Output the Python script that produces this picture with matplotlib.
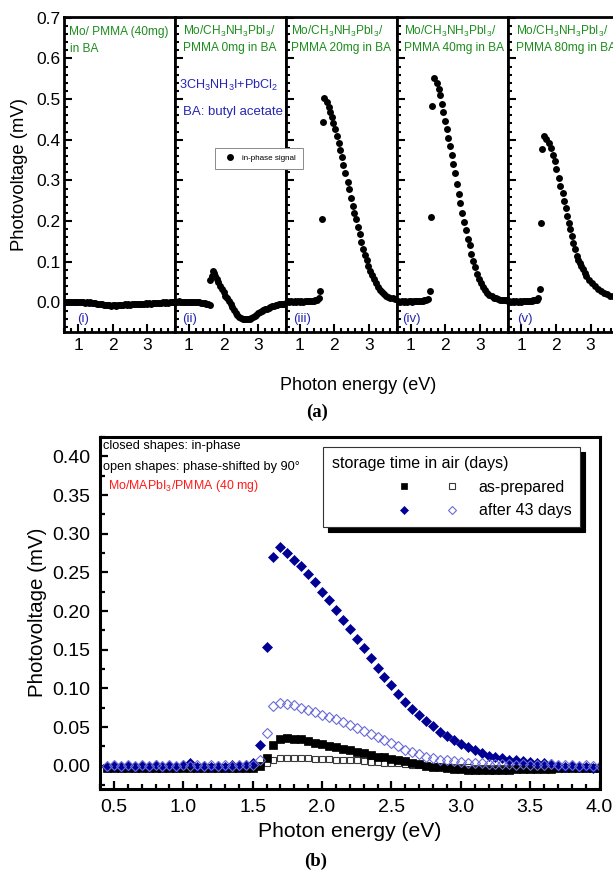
import matplotlib
matplotlib.use("Agg")
import matplotlib.pyplot as plt
from matplotlib.lines import Line2D
from matplotlib.legend_handler import HandlerTuple
from matplotlib.ticker import MultipleLocator, FormatStrFormatter

plt.rcParams['font.family'] = ['Liberation Sans', 'DejaVu Sans']
plt.rcParams['mathtext.fontset'] = 'custom'
plt.rcParams['mathtext.rm'] = 'Liberation Sans'
plt.rcParams['mathtext.it'] = 'Liberation Sans:italic'
plt.rcParams['mathtext.bf'] = 'Liberation Sans:bold'

# ---------------------------------------------------------------- data (a)
# (i) Mo/PMMA (40 mg) in BA
e_i = [0.60, 0.65, 0.70, 0.75, 0.80, 0.85, 0.90, 0.95, 1.00, 1.05, 1.10, 1.15, 1.20, 1.25,
       1.30, 1.35, 1.40, 1.45, 1.50, 1.55, 1.60, 1.65, 1.70, 1.75, 1.80, 1.85, 1.90, 1.95,
       2.00, 2.05, 2.10, 2.15, 2.20, 2.25, 2.30, 2.35, 2.40, 2.45, 2.50, 2.55, 2.60, 2.65,
       2.70, 2.75, 2.80, 2.85, 2.90, 2.95, 3.00, 3.05, 3.10, 3.15, 3.20, 3.25, 3.30, 3.35,
       3.40, 3.45, 3.50, 3.55, 3.60, 3.65, 3.70, 3.75, 3.80]
v_i = [0.001, 0.002, 0.000, 0.002, 0.001, 0.002, 0.000, 0.001, 0.002, 0.000, 0.001, 0.000, -0.001, 0.000,
       -0.001, 0.000, -0.001, -0.002, -0.001, -0.003, -0.003, -0.005, -0.004, -0.006, -0.006, -0.007, -0.006, -0.008,
       -0.007, -0.007, -0.008, -0.006, -0.007, -0.006, -0.007, -0.005, -0.006, -0.005, -0.006, -0.004, -0.005, -0.004,
       -0.005, -0.003, -0.004, -0.003, -0.004, -0.002, -0.003, -0.002, -0.003, -0.002, -0.002, -0.001, -0.002, -0.001,
       -0.002, 0.000, -0.001, 0.000, -0.001, 0.000, 0.000, 0.001, 0.000]

# (ii) Mo/CH3NH3PbI3/PMMA 0 mg in BA
e_ii = [0.60, 0.65, 0.70, 0.75, 0.80, 0.85, 0.90, 0.95, 1.00, 1.05, 1.10, 1.15, 1.20, 1.25,
        1.30, 1.35, 1.40, 1.45, 1.50, 1.55, 1.60,
        1.62, 1.66, 1.70, 1.73, 1.76, 1.80, 1.85, 1.90, 1.95, 2.00,
        2.05, 2.10, 2.15, 2.20, 2.25, 2.30, 2.35, 2.40, 2.45, 2.50, 2.55, 2.60, 2.65, 2.70,
        2.75, 2.80, 2.85, 2.90, 2.95, 3.00, 3.05, 3.10, 3.15, 3.20, 3.25, 3.30, 3.35, 3.40,
        3.45, 3.50, 3.55, 3.60, 3.65, 3.70, 3.75, 3.80]
v_ii = [0.002, 0.001, 0.003, 0.001, 0.002, 0.001, 0.002, 0.001, 0.002, 0.001, 0.001, 0.000, 0.001, 0.000,
        0.000, -0.001, -0.001, -0.002, -0.003, -0.005, -0.007,
        0.056, 0.066, 0.077, 0.072, 0.066, 0.058, 0.049, 0.041, 0.033, 0.025,
        0.017, 0.010, 0.003, -0.005, -0.012, -0.019, -0.025, -0.030, -0.035, -0.038, -0.041, -0.042, -0.042, -0.041,
        -0.040, -0.038, -0.036, -0.033, -0.030, -0.027, -0.024, -0.021, -0.019, -0.017, -0.015, -0.013, -0.011, -0.009,
        -0.008, -0.007, -0.006, -0.005, -0.004, -0.003, -0.003, -0.002]

# (iii) Mo/CH3NH3PbI3/PMMA 20 mg in BA
e_iii = [0.60, 0.65, 0.70, 0.75, 0.80, 0.85, 0.90, 0.95, 1.00, 1.05, 1.10, 1.15, 1.20, 1.25,
         1.30, 1.35, 1.40, 1.45, 1.50,
         1.55, 1.59, 1.63, 1.66, 1.70, 1.78,
         1.84, 1.88, 1.92, 1.97, 2.03, 2.07, 2.13, 2.17, 2.21, 2.26, 2.32, 2.38, 2.43, 2.48,
         2.53, 2.58, 2.63, 2.68, 2.73, 2.78, 2.83, 2.88, 2.93, 2.98, 3.03, 3.08, 3.14, 3.20,
         3.26, 3.32, 3.38, 3.44, 3.50, 3.56, 3.62, 3.68, 3.74, 3.80]
v_iii = [0.002, 0.003, 0.002, 0.003, 0.002, 0.003, 0.002, 0.003, 0.002, 0.003, 0.002, 0.003, 0.003, 0.003,
         0.003, 0.004, 0.004, 0.005, 0.007,
         0.011, 0.028, 0.205, 0.443, 0.502, 0.492,
         0.480, 0.467, 0.455, 0.441, 0.426, 0.410, 0.393, 0.375, 0.358, 0.339, 0.317, 0.295, 0.278, 0.257,
         0.238, 0.221, 0.204, 0.186, 0.168, 0.148, 0.131, 0.117, 0.104, 0.090, 0.078, 0.068, 0.057, 0.047,
         0.038, 0.031, 0.025, 0.020, 0.016, 0.014, 0.012, 0.010, 0.009, 0.008]

# (iv) Mo/CH3NH3PbI3/PMMA 40 mg in BA
e_iv = [0.60, 0.65, 0.70, 0.75, 0.80, 0.85, 0.90, 0.95, 1.00, 1.05, 1.10, 1.15, 1.20, 1.25,
        1.30, 1.35, 1.40, 1.45, 1.50,
        1.56, 1.59, 1.63, 1.68, 1.75, 1.81,
        1.86, 1.90, 1.95, 2.00, 2.05, 2.09, 2.14, 2.19, 2.24, 2.29, 2.35, 2.40, 2.44, 2.49,
        2.54, 2.60, 2.65, 2.71, 2.76, 2.81, 2.86, 2.92, 2.98, 3.04, 3.10, 3.16, 3.22, 3.28,
        3.34, 3.40, 3.46, 3.52, 3.58, 3.64, 3.70, 3.76, 3.80]
v_iv = [0.002, 0.003, 0.002, 0.003, 0.002, 0.003, 0.002, 0.003, 0.003, 0.002, 0.003, 0.003, 0.003, 0.004,
        0.004, 0.004, 0.005, 0.006, 0.008,
        0.027, 0.211, 0.482, 0.551, 0.540, 0.525,
        0.509, 0.489, 0.467, 0.445, 0.426, 0.404, 0.384, 0.363, 0.341, 0.317, 0.292, 0.267, 0.245, 0.220,
        0.197, 0.178, 0.157, 0.140, 0.118, 0.101, 0.086, 0.071, 0.058, 0.047, 0.038, 0.030, 0.024, 0.019,
        0.015, 0.012, 0.010, 0.008, 0.007, 0.006, 0.005, 0.005, 0.004]

# (v) Mo/CH3NH3PbI3/PMMA 80 mg in BA
e_v = [0.60, 0.65, 0.70, 0.75, 0.80, 0.85, 0.90, 0.95, 1.00, 1.05, 1.10, 1.15, 1.20, 1.25,
       1.30, 1.35, 1.40, 1.45,
       1.49, 1.53, 1.58, 1.61, 1.65, 1.72, 1.79,
       1.85, 1.91, 1.96, 2.01, 2.08, 2.13, 2.19, 2.23, 2.28, 2.33, 2.37, 2.41, 2.45, 2.49,
       2.55, 2.61, 2.65, 2.69, 2.73, 2.77, 2.83, 2.88, 2.95, 3.03, 3.12, 3.22, 3.30, 3.38,
       3.46, 3.55, 3.65, 3.75]
v_v = [0.002, 0.003, 0.002, 0.003, 0.002, 0.003, 0.002, 0.003, 0.002, 0.003, 0.003, 0.003, 0.004, 0.004,
       0.004, 0.005, 0.006, 0.007,
       0.010, 0.032, 0.196, 0.376, 0.410, 0.401, 0.391,
       0.380, 0.363, 0.347, 0.327, 0.306, 0.286, 0.269, 0.249, 0.233, 0.212, 0.196, 0.180, 0.163, 0.147,
       0.131, 0.114, 0.105, 0.098, 0.090, 0.082, 0.073, 0.065, 0.056, 0.048, 0.040, 0.032, 0.028, 0.024,
       0.020, 0.017, 0.015, 0.013]

panel_tags = ["(i)", "(ii)", "(iii)", "(iv)", "(v)"]
panel_line1 = ["Mo/ PMMA (40mg)",
               "Mo/CH$_3$NH$_3$PbI$_3$/",
               "Mo/CH$_3$NH$_3$PbI$_3$/",
               "Mo/CH$_3$NH$_3$PbI$_3$/",
               "Mo/CH$_3$NH$_3$PbI$_3$/"]
panel_line2 = ["in BA", "PMMA 0mg in BA", "PMMA 20mg in BA",
               "PMMA 40mg in BA", "PMMA 80mg in BA"]

# ---------------------------------------------------------------- data (b)
e_b = [0.45, 0.50, 0.55, 0.60, 0.65, 0.70, 0.75, 0.80, 0.85, 0.90, 0.95, 1.00,
       1.05, 1.10, 1.15, 1.20, 1.25, 1.30, 1.35, 1.40, 1.45, 1.50, 1.55, 1.60,
       1.65, 1.70, 1.75, 1.80, 1.85, 1.90, 1.95, 2.00, 2.05, 2.10, 2.15, 2.20,
       2.25, 2.30, 2.35, 2.40, 2.45, 2.50, 2.55, 2.60, 2.65, 2.70, 2.75, 2.80,
       2.85, 2.90, 2.95, 3.00, 3.05, 3.10, 3.15, 3.20, 3.25, 3.30, 3.35, 3.40,
       3.45, 3.50, 3.55, 3.60, 3.65, 3.70, 3.75, 3.80, 3.85, 3.90, 3.95, 4.00]
fresh_inphase = [-0.003, -0.003, -0.003, -0.003, -0.003, -0.003, -0.003, -0.003, -0.003, -0.003, -0.003, -0.003,
                 -0.003, -0.003, -0.003, -0.003, -0.003, -0.003, -0.003, -0.003, -0.003, -0.003, 0.000, 0.010,
                 0.027, 0.035, 0.036, 0.035, 0.034, 0.032, 0.030, 0.028, 0.026, 0.024, 0.022, 0.020,
                 0.018, 0.016, 0.014, 0.012, 0.011, 0.009, 0.008, 0.006, 0.004, 0.002, 0.000, -0.001,
                 -0.002, -0.003, -0.004, -0.004, -0.005, -0.005, -0.005, -0.005, -0.005, -0.005, -0.005, -0.004,
                 -0.004, -0.004, -0.004, -0.004, -0.004, -0.003, -0.003, -0.003, -0.003, -0.003, -0.003, -0.003]
fresh_shifted = [-0.002, -0.002, -0.002, -0.002, -0.002, -0.002, -0.002, -0.002, -0.002, -0.002, -0.002, -0.002,
                 -0.002, -0.002, -0.002, -0.002, -0.002, -0.002, -0.002, -0.002, -0.002, -0.002, 0.000, 0.004,
                 0.008, 0.010, 0.010, 0.010, 0.010, 0.010, 0.009, 0.009, 0.009, 0.008, 0.008, 0.007,
                 0.007, 0.006, 0.005, 0.005, 0.004, 0.003, 0.003, 0.002, 0.001, 0.001, 0.000, -0.001,
                 -0.001, -0.002, -0.002, -0.002, -0.002, -0.003, -0.003, -0.003, -0.003, -0.003, -0.003, -0.003,
                 -0.003, -0.003, -0.003, -0.003, -0.003, -0.003, -0.003, -0.003, -0.003, -0.003, -0.003, -0.003]
aged_inphase = [-0.002, 0.000, -0.002, 0.000, -0.002, 0.000, -0.001, 0.001, -0.002, 0.000, -0.001, 0.001,
                0.004, -0.002, 0.000, -0.001, 0.000, -0.001, 0.001, 0.000, 0.001, 0.003, 0.027, 0.153,
                0.270, 0.283, 0.275, 0.266, 0.258, 0.248, 0.237, 0.225, 0.214, 0.202, 0.189, 0.177,
                0.164, 0.152, 0.139, 0.127, 0.115, 0.104, 0.093, 0.083, 0.074, 0.066, 0.058, 0.051,
                0.044, 0.038, 0.033, 0.028, 0.024, 0.020, 0.016, 0.013, 0.012, 0.010, 0.008, 0.007,
                0.006, 0.005, 0.004, 0.003, 0.002, 0.000, -0.001, 0.000, -0.002, -0.001, -0.003, -0.001]
aged_shifted = [0.000, 0.001, 0.000, 0.001, 0.000, 0.001, 0.000, 0.001, 0.000, 0.001, 0.000, 0.001,
                0.000, 0.001, 0.000, 0.001, 0.000, 0.001, 0.000, 0.001, 0.001, 0.001, 0.007, 0.042,
                0.077, 0.081, 0.080, 0.078, 0.075, 0.072, 0.069, 0.066, 0.063, 0.060, 0.056, 0.053,
                0.049, 0.045, 0.041, 0.037, 0.033, 0.029, 0.025, 0.021, 0.018, 0.015, 0.012, 0.010,
                0.008, 0.007, 0.006, 0.005, 0.004, 0.003, 0.003, 0.002, 0.002, 0.002, 0.002, 0.001,
                0.002, 0.001, 0.001, 0.001, 0.002, 0.001, 0.001, 0.001, 0.000, 0.001, 0.000, 0.000]

# ---------------------------------------------------------------- figure
W, H = 613, 872
fig = plt.figure(figsize=(W / 100, H / 100), dpi=100)


def fx(px):
    return px / W


def fy(py):
    return 1 - py / H


GREEN = '#1c8c1c'
BLUE_TXT = '#2626b4'
NAVY = '#000094'
LIGHT_BLUE = '#6c6cd6'

# ---- panel (a): five side-by-side boxes sharing the y scale
a_top, a_bot = 17.5, 331.7
a_left0, a_w = 64.3, 110.8
series_a = [(e_i, v_i), (e_ii, v_ii), (e_iii, v_iii), (e_iv, v_iv), (e_v, v_v)]
line1_dx = [4.7, 8.0, 5.0, 7.0, 8.5]
tag_x = [0.98, 0.80, 0.82, 0.77, 0.89]
handles_a = []
for k, (ee, vv) in enumerate(series_a):
    left = a_left0 + k * a_w
    ax = fig.add_axes([fx(left), fy(a_bot), a_w / W, (a_bot - a_top) / H])
    h, = ax.plot(ee, vv, linestyle='none', marker='o', ms=5.0,
                 mfc='black', mec='black', mew=0)
    handles_a.append(h)
    ax.set_xlim(0.6, 3.8)
    ax.set_ylim(-0.072, 0.7005)
    ax.xaxis.set_major_locator(MultipleLocator(1))
    ax.xaxis.set_minor_locator(MultipleLocator(0.2))
    ax.yaxis.set_major_locator(MultipleLocator(0.1))
    ax.yaxis.set_minor_locator(MultipleLocator(0.02))
    ax.yaxis.set_major_formatter(FormatStrFormatter('%.1f'))
    ax.tick_params(which='both', direction='in', top=False, right=False,
                   width=1.5, labelsize=12.5)
    ax.tick_params(which='major', length=5.5)
    ax.tick_params(which='minor', length=3.2)
    ax.tick_params(axis='x', pad=4.5)
    ax.tick_params(axis='y', pad=2.5)
    if k > 0:
        ax.tick_params(axis='y', labelleft=False)
    for sp in ax.spines.values():
        sp.set_linewidth(2.0)
    # sample description
    fig.text(fx(left + line1_dx[k]), fy(35.3), panel_line1[k], color=GREEN,
             fontsize=8.6, va='baseline', ha='left')
    fig.text(fx(left + line1_dx[k] + (1.5 if k == 0 else 0)), fy(51.5), panel_line2[k],
             color=GREEN, fontsize=8.6, va='baseline', ha='left')
    ax.text(tag_x[k], -0.042, panel_tags[k], color=BLUE_TXT, fontsize=9.5,
            ha='left', va='center')

fig.text(fx(179), fy(89.3), "3CH$_3$NH$_3$I+PbCl$_2$", color=BLUE_TXT,
         fontsize=9.1, va='baseline', ha='left')
fig.text(fx(182.7), fy(115), "BA: butyl acetate", color=BLUE_TXT,
         fontsize=9.5, va='baseline', ha='left')

leg_a = fig.legend(handles=[handles_a[1]], labels=['in-phase signal'],
                   loc='upper left', bbox_to_anchor=(fx(215), fy(148)),
                   bbox_transform=fig.transFigure, borderaxespad=0,
                   fontsize=5.8, fancybox=False, edgecolor='#8a8a8a',
                   framealpha=1, handlelength=2.0, handletextpad=0.6,
                   borderpad=0.8)
leg_a.get_frame().set_linewidth(0.7)

fig.text(fx(20), fy(174.6), "Photovoltage (mV)", rotation=90, ha='center',
         va='center', fontsize=13.3)
fig.text(fx(358), fy(385), "Photon energy (eV)", ha='center', va='center',
         fontsize=13)
fig.text(fx(317), fy(412.5), "(a)", ha='center', va='center', fontsize=13.5,
         family='Liberation Serif', weight='bold')

# ---- panel (b): storage in air
b_left, b_right, b_top, b_bot = 100, 599.5, 437, 789
ax_b = fig.add_axes([fx(b_left), fy(b_bot), (b_right - b_left) / W, (b_bot - b_top) / H])
h_fs, = ax_b.plot(e_b, fresh_shifted, linestyle='none', marker='s', ms=5.0,
                  mfc='none', mec='#3a3a3a', mew=0.8)
h_fi, = ax_b.plot(e_b, fresh_inphase, linestyle='none', marker='s', ms=5.4,
                  mfc='black', mec='black', mew=0.5)
h_ai, = ax_b.plot(e_b, aged_inphase, linestyle='none', marker='D', ms=5.2,
                  mfc=NAVY, mec=NAVY, mew=0.5)
h_as, = ax_b.plot(e_b, aged_shifted, linestyle='none', marker='D', ms=5.2,
                  mfc='none', mec=LIGHT_BLUE, mew=0.8)

ax_b.set_xlim(0.4, 4.0)
ax_b.set_ylim(-0.03, 0.425)
ax_b.xaxis.set_major_locator(MultipleLocator(0.5))
ax_b.xaxis.set_minor_locator(MultipleLocator(0.1))
ax_b.yaxis.set_major_locator(MultipleLocator(0.05))
ax_b.yaxis.set_minor_locator(MultipleLocator(0.025))
ax_b.xaxis.set_major_formatter(FormatStrFormatter('%.1f'))
ax_b.yaxis.set_major_formatter(FormatStrFormatter('%.2f'))
ax_b.tick_params(which='both', direction='in', top=False, right=False,
                 width=1.6, labelsize=14, pad=7)
ax_b.tick_params(which='major', length=6)
ax_b.tick_params(which='minor', length=3.5)
for sp in ax_b.spines.values():
    sp.set_linewidth(2.2)

blank = Line2D([], [], linestyle='none')
leg_b = ax_b.legend(handles=[(blank, h_fi, h_fs), (blank, h_ai, h_as)],
                    labels=['as-prepared', 'after 43 days'],
                    handler_map={tuple: HandlerTuple(ndivide=None, pad=0)},
                    title='storage time in air (days)', title_fontsize=11.5,
                    fontsize=11.5, alignment='left', loc='upper left',
                    bbox_to_anchor=(fx(323), fy(447)),
                    bbox_transform=fig.transFigure, borderaxespad=0,
                    fancybox=False, edgecolor='#333333', framealpha=1,
                    handlelength=9.0, handletextpad=0.19, borderpad=0.55,
                    labelspacing=0.55, markerscale=0.85,
                    shadow={'ox': 3.6, 'oy': -3.6, 'facecolor': 'black',
                            'edgecolor': 'black', 'alpha': 1})
leg_b.get_frame().set_linewidth(0.8)

fig.text(fx(103), fy(446), "closed shapes: in-phase", fontsize=9.2,
         ha='left', va='center')
fig.text(fx(103), fy(467.3), "open shapes: phase-shifted by 90°", fontsize=9.2,
         ha='left', va='center')
fig.text(fx(107.7), fy(489), "Mo/MAPbI$_3$/PMMA (40 mg)", fontsize=8.9,
         color='#ff1a1a', ha='left', va='baseline')

fig.text(fx(38), fy(612), "Photovoltage (mV)", rotation=90, ha='center',
         va='center', fontsize=14.8)
fig.text(fx(350), fy(831), "Photon energy (eV)", ha='center', va='center',
         fontsize=15.2)
fig.text(fx(316), fy(861), "(b)", ha='center', va='center', fontsize=13.5,
         family='Liberation Serif', weight='bold')

fig.savefig("out.png", dpi=100)
